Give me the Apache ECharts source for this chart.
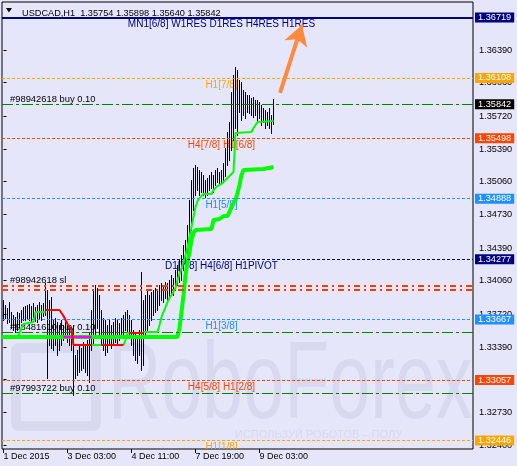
<!DOCTYPE html>
<html><head><meta charset="utf-8">
<script src="https://cdn.jsdelivr.net/npm/echarts@6/dist/echarts.min.js"></script>
<style>html,body{margin:0;padding:0;background:#E6E6FA}#c{width:517px;height:466px}</style>
</head><body><div id="c"></div>
<script>
// ---------- data ----------
const titleText = 'USDCAD,H1  1.35754 1.35898 1.35640 1.35842';
const xTickIndex = [0, 32, 64, 96, 128];
const xTickLabels = ['1 Dec 2015', '3 Dec 03:00', '4 Dec 11:00', '7 Dec 19:00', '9 Dec 03:00'];
const yTickValues = [1.36390, 1.36060, 1.35720, 1.35390, 1.35060, 1.34730, 1.34390, 1.34060, 1.33720, 1.33390, 1.33060, 1.32730, 1.32400];

const barHigh = [1.33865,1.33815,1.33784,1.33845,1.33744,1.33714,1.33693,1.33744,1.33734,1.33764,
 1.33794,1.33804,1.33815,1.33825,1.33804,1.33835,1.33794,1.33815,1.33845,1.33815,
 1.33835,1.34037,1.33966,1.33865,1.33895,1.33663,1.33683,1.33643,1.33613,1.33663,
 1.33613,1.33643,1.33613,1.33582,1.33562,1.33613,1.33310,1.33360,1.33410,1.33380,
 1.33441,1.33410,1.33461,1.33542,1.33764,1.33966,1.34017,1.33986,1.33916,1.33764,
 1.33683,1.33663,1.33613,1.33663,1.33613,1.33643,1.33683,1.33663,1.33633,1.33683,
 1.33714,1.33744,1.33764,1.33714,1.33663,1.33562,1.33532,1.33481,1.33562,1.34148,
 1.33865,1.33916,1.33966,1.33916,1.33946,1.33966,1.33986,1.33966,1.34017,1.34037,
 1.34017,1.34047,1.34037,1.34067,1.34118,1.34087,1.34168,1.34219,1.34269,1.34320,
 1.34421,1.34471,1.34623,1.34875,1.35077,1.35198,1.35229,1.35208,1.35178,1.35158,
 1.35128,1.35077,1.35097,1.35128,1.35158,1.35128,1.35178,1.35198,1.35158,1.35178,
 1.35249,1.35400,1.35562,1.35663,1.35966,1.36137,1.36218,1.36188,1.36087,1.36067,
 1.35986,1.35966,1.35935,1.35935,1.35905,1.35915,1.35885,1.35885,1.35865,1.35835,
 1.35804,1.35784,1.35764,1.35804,1.35734,1.35898];
const barLow = [1.33663,1.33683,1.33633,1.33643,1.33582,1.33562,1.33542,1.33562,1.33592,1.33643,
 1.33663,1.33663,1.33683,1.33663,1.33643,1.33683,1.33653,1.33643,1.33683,1.33663,
 1.33703,1.33714,1.33077,1.33410,1.33380,1.33360,1.33410,1.33310,1.33360,1.33410,
 1.33461,1.33481,1.33441,1.33410,1.33360,1.32906,1.33077,1.33108,1.33138,1.33158,
 1.33178,1.33138,1.33108,1.33037,1.33360,1.33410,1.33512,1.33582,1.33512,1.33410,
 1.33360,1.33310,1.33340,1.33410,1.33380,1.33410,1.33441,1.33431,1.33461,1.33481,
 1.33512,1.33562,1.33532,1.33481,1.33410,1.33310,1.33259,1.33229,1.33310,1.33158,
 1.33209,1.33512,1.33562,1.33613,1.33663,1.33714,1.33744,1.33764,1.33815,1.33865,
 1.33845,1.33885,1.33865,1.33905,1.33936,1.33916,1.33966,1.34017,1.34047,1.34067,
 1.34168,1.34219,1.34320,1.34421,1.34572,1.34774,1.34926,1.34976,1.34926,1.34956,
 1.34926,1.34905,1.34926,1.34976,1.34996,1.34956,1.35027,1.35057,1.35027,1.35057,
 1.35057,1.35118,1.35229,1.35279,1.35380,1.35481,1.35602,1.35532,1.35764,1.35683,
 1.35734,1.35703,1.35764,1.35754,1.35734,1.35713,1.35734,1.35683,1.35703,1.35633,
 1.35663,1.35602,1.35633,1.35602,1.35552,1.35640];

// indicator polylines: [bar index, price] vertices
const thickLine = [[-1,1.33491],[87,1.33491],[88,1.33582],[89,1.33744],[90,1.33916],[91,1.34118],[92,1.34249],
 [93,1.34350],[94,1.34471],[95,1.34542],[96,1.34572],[97,1.34582],[104,1.34582],[105,1.34673],[106,1.34683],
 [108,1.34683],[109,1.34703],[110,1.34713],[112,1.34713],[113,1.34754],[114,1.34804],[115,1.34845],[116,1.34875],
 [117,1.34946],[118,1.35027],[119,1.35128],[120,1.35178],[121,1.35188],[130,1.35188],[131,1.35208],[135,1.35208]];
const magentaLine = [[30,1.33491],[44,1.33491]];
const thinGreen = [
 [[-1,1.33491],[7,1.33491],[8,1.33532],[9,1.33582],[10,1.33623],[11,1.33643],[15,1.33643],[16,1.33744],[21,1.33744]],
 [[44,1.33410],[49,1.33410]],
 [[60,1.33410],[61,1.33461],[62,1.33532],[63,1.33532]],
 [[70,1.33542],[77,1.33542],[78,1.33613],[79,1.33693],[80,1.33744],[81,1.33794],[82,1.33845],[83,1.33885],[84,1.33916],
  [85,1.33946],[86,1.33986],[87,1.34067],[88,1.34128],[89,1.34188],[90,1.34249],[91,1.34320],[92,1.34400],[93,1.34501],
  [94,1.34602],[95,1.34703],[96,1.34804],[97,1.34865],[98,1.34895],[99,1.34915],[100,1.34936],[104,1.34936],[105,1.34976],
  [106,1.34996],[107,1.35016],[108,1.35027],[109,1.35037],[110,1.35047],[111,1.35077],[112,1.35097],[113,1.35118],
  [114,1.35138],[115,1.35158],[116,1.35552],[117,1.35562],[124,1.35562],[125,1.35602],[126,1.35633],[127,1.35663],
  [128,1.35673],[135,1.35673]]
];
const thinRed = [
 [[21,1.33764],[28,1.33764],[29,1.33734],[30,1.33703],[31,1.33663],[32,1.33623],[33,1.33592],[34,1.33562],[35,1.33410],[44,1.33410]],
 [[49,1.33410],[60,1.33410]],
 [[63,1.33532],[70,1.33532]]
];

const levelPrices = [1.36719, 1.36108, 1.35842, 1.35498, 1.34888, 1.34277, 1.34009, 1.33973, 1.33667, 1.33539, 1.33057, 1.32923, 1.32446];
const levelLabels = ['MN1[6/8] W1RES D1RES H4RES H1RES', 'H1[7/8]', '#98942618 buy 0.10', 'H4[7/8] H1[6/8]', 'H1[5/8]',
  'D1[7/8] H4[6/8] H1PIVOT', '#98942618 sl', '', 'H1[3/8]', '#98481610 buy 0.10', 'H4[5/8] H1[2/8]', '#97993722 buy 0.10', 'H1[1/8]'];
const watermarkText = 'RoboForex';
const watermarkSlogan = 'ИСПОЛЬЗУЙ РОБОТОВ – ПОЛУЧАЙ ПРИБЫЛЬ';

// ---------- styles / layout ----------
const FONT = '"Liberation Sans", Arial, sans-serif';
const NAVY = '#000080', ORANGE = '#FFA500', ORED = '#FF4500', DBLUE = '#1E90FF', GREEN = '#008000';
const DOT = [3, 2], DASHDOT = [11, 3, 3, 3], SLDASH = [6, 4, 2, 4];
const levelStyles = [
  {color: NAVY, width: 2, dash: 'solid', box: NAVY},
  {color: ORANGE, width: 1, dash: DOT, box: ORANGE},
  {color: GREEN, width: 1, dash: DASHDOT, box: '#000000'},
  {color: ORED, width: 1, dash: DOT, box: ORED},
  {color: DBLUE, width: 1, dash: DOT, box: DBLUE},
  {color: NAVY, width: 1, dash: DOT, box: NAVY},
  {color: '#FF3C00', width: 1.8, dash: SLDASH, box: null},
  {color: '#FF3C00', width: 1.8, dash: SLDASH, box: null},
  {color: DBLUE, width: 1, dash: DOT, box: DBLUE},
  {color: GREEN, width: 1, dash: DASHDOT, box: null},
  {color: ORED, width: 1, dash: DOT, box: ORED},
  {color: GREEN, width: 1, dash: DASHDOT, box: null},
  {color: ORANGE, width: 1, dash: DOT, box: ORANGE}
];
const LVL = {bar: 109, va: 'top', dy: 2, align: 'center', size: 10};
const ORD = {bar: 3.25, va: 'bottom', dy: -0.5, align: 'left', size: 9.4};
const labelLayout = [
  Object.assign({color: NAVY}, LVL), Object.assign({color: ORANGE}, LVL), Object.assign({color: '#000'}, ORD),
  Object.assign({color: ORED}, LVL), Object.assign({color: DBLUE}, LVL), Object.assign({color: NAVY}, LVL),
  Object.assign({color: '#000'}, ORD, {dy: -1}), null, Object.assign({color: DBLUE}, LVL),
  Object.assign({color: '#000'}, ORD), Object.assign({color: ORED}, LVL), Object.assign({color: '#000'}, ORD),
  Object.assign({color: ORANGE}, LVL)
];
const arrowFrom = [138.25, 1.35956], arrowTo = [149.25, 1.36643];
const WM = '#D8D8EF';

const chart = echarts.init(document.getElementById('c'), null, {renderer: 'canvas'});

const levelMarks = levelPrices.map((p, k) => {
  const s = levelStyles[k];
  return {
    yAxis: p,
    lineStyle: {color: s.color, width: s.width, type: s.dash, opacity: 1},
    label: s.box ? {show: true, position: 'end', distance: 2, formatter: p.toFixed(5), color: '#fff',
      backgroundColor: s.box, padding: [1, 3, 0, 3], fontSize: 9.2, fontFamily: FONT} : {show: false}
  };
});

const labelData = [];
levelPrices.forEach((p, k) => { if (levelLabels[k]) labelData.push([labelLayout[k].bar, p, k]); });

const series = [
  {type: 'line', data: [], z: 1, silent: true,
   markLine: {silent: true, animation: false, precision: 5, symbol: ['none', 'none'], data: levelMarks}},
  {type: 'custom', z: 1, clip: true, silent: true, data: labelData, encode: {x: 0, y: 1},
   renderItem: (params, api) => {
     const k = api.value(2); const s = labelLayout[k];
     const pt = api.coord([api.value(0), api.value(1)]);
     return {type: 'text', x: pt[0], y: pt[1] + s.dy,
       style: {text: levelLabels[k], fill: s.color, font: s.size + 'px ' + FONT, align: s.align, verticalAlign: s.va}};
   }},
  {type: 'custom', z: 3, clip: true, silent: true, data: barHigh.map((h, i) => [i, h, barLow[i]]), encode: {x: 0, y: [1, 2]},
   renderItem: (params, api) => {
     const a = api.coord([api.value(0), api.value(1)]);
     const b = api.coord([api.value(0), api.value(2)]);
     return {type: 'line', shape: {x1: a[0], y1: Math.round(a[1]), x2: b[0], y2: Math.round(b[1]) + 1},
       style: {stroke: '#000', lineWidth: 1}};
   }},
  {type: 'line', z: 4, silent: true, data: thickLine, symbol: 'none', lineStyle: {color: '#00FF00', width: 4}},
  {type: 'line', z: 5, silent: true, data: magentaLine, symbol: 'none', lineStyle: {color: '#FF00FF', width: 2.5}}
];
thinGreen.forEach(seg => series.push({type: 'line', z: 6, silent: true, data: seg, symbol: 'none', lineStyle: {color: '#00FF00', width: 2}}));
thinRed.forEach(seg => series.push({type: 'line', z: 6, silent: true, data: seg, symbol: 'none', lineStyle: {color: '#FF0000', width: 2}}));
series.push({type: 'line', data: [], z: 8, silent: true,
  markLine: {silent: true, animation: false, precision: 5, symbol: ['none', 'arrow'], symbolSize: [18, 20],
    lineStyle: {color: '#FF8A3D', width: 4, type: 'solid'}, label: {show: false},
    data: [[{coord: arrowFrom}, {coord: arrowTo}]]}});

chart.setOption({
  animation: false,
  backgroundColor: '#E6E6FA',
  title: {text: titleText, left: 17, top: 4, textStyle: {fontSize: 9.2, fontWeight: 'normal', color: '#000', fontFamily: FONT}},
  graphic: [
    {type: 'polygon', silent: true, shape: {points: [[6, 8], [12, 8], [9, 12.5]]}, style: {fill: '#000'}},
    {type: 'rect', silent: true, z: -1, shape: {x: 16, y: 348, width: 80, height: 78, r: 3}, style: {fill: 'none', stroke: WM, lineWidth: 10}},
    {type: 'text', silent: true, z: -1, x: 108, y: 388, scaleX: 0.67,
     style: {text: watermarkText, font: '110px ' + FONT, fill: WM, verticalAlign: 'middle'}},
    {type: 'text', silent: true, z: -1, x: 235, y: 435,
     style: {text: watermarkSlogan, font: '11px ' + FONT, fill: WM, verticalAlign: 'middle', width: 237, overflow: 'truncate', ellipsis: ''}}
  ],
  grid: {left: 2, right: 44, top: 2, bottom: 17, show: true, borderColor: '#000', borderWidth: 1, containLabel: false},
  xAxis: {type: 'value', min: -0.75, max: 234.75,
    axisLine: {show: false}, splitLine: {show: false},
    axisTick: {show: true, customValues: xTickIndex, length: 4, lineStyle: {color: '#000'}},
    axisLabel: {customValues: xTickIndex, formatter: v => xTickLabels[xTickIndex.indexOf(v)] || '',
      align: 'left', margin: 3, fontSize: 9, color: '#000', fontFamily: FONT}},
  yAxis: {type: 'value', position: 'right', min: 1.3236, max: 1.36875, scale: true,
    axisLine: {show: false}, splitLine: {show: false},
    axisTick: {show: true, customValues: yTickValues, length: 3, lineStyle: {color: '#000'}},
    axisLabel: {customValues: yTickValues, formatter: v => v.toFixed(5), margin: 6, fontSize: 9.2, color: '#000', fontFamily: FONT}},
  series: series
});
</script></body></html>
